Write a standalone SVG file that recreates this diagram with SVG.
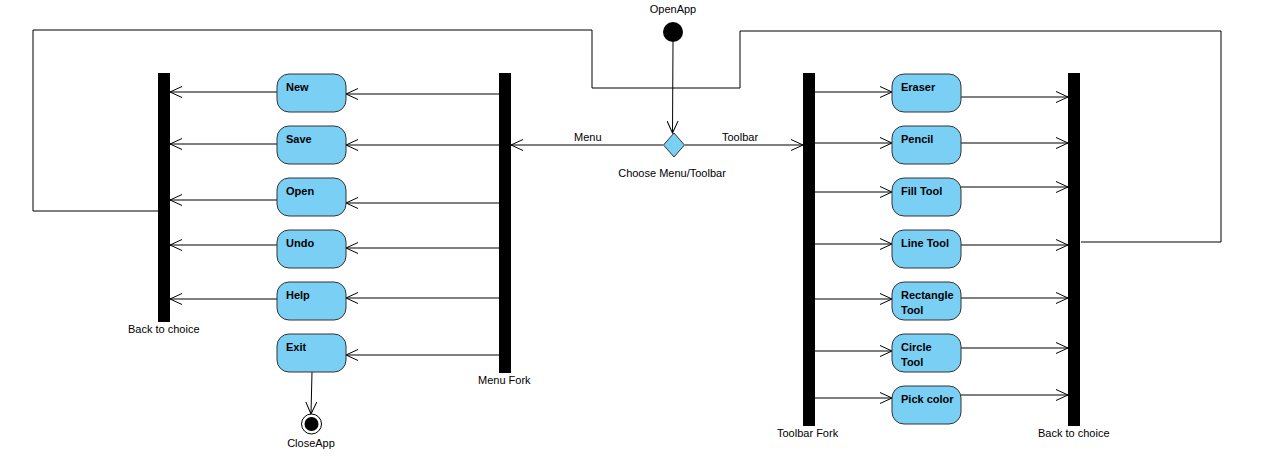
<svg xmlns="http://www.w3.org/2000/svg" width="1267" height="470" viewBox="0 0 1267 470">
<style>
text{font-family:"Liberation Sans",Arial,sans-serif;font-size:11px;fill:#000}
.n text{font-weight:bold}
.act{fill:#7acff5;stroke:#333;stroke-width:1}
.bar{fill:#000}
.c line,.c polyline{stroke:#000;stroke-width:1;fill:none}
.ar{marker-end:url(#a)}
</style>
<defs>
<marker id="a" markerWidth="14" markerHeight="12" refX="12" refY="6" orient="auto" markerUnits="userSpaceOnUse">
<path d="M0,0.5 L12,6 L0,11.5" fill="none" stroke="#000" stroke-width="1"/>
</marker>
</defs>
<rect width="1267" height="470" fill="#fff"/>

<g class="c" id="connectors">
<polyline points="158,211 33,211 33,30 592,30 592,88 673,88"/>
<polyline points="1081,242 1221,242 1221,31 740,31 740,88 673,88"/>
<line class="ar" x1="673" y1="42" x2="672.5" y2="133"/>
<line class="ar" x1="663" y1="145" x2="511" y2="145"/>
<line class="ar" x1="685" y1="145" x2="803" y2="145"/>
<!-- left menu -->
<line class="ar" x1="499" y1="94" x2="346" y2="94"/>
<line class="ar" x1="277" y1="92" x2="170" y2="92"/>
<line class="ar" x1="499" y1="145" x2="346" y2="145"/>
<line class="ar" x1="277" y1="144" x2="170" y2="144"/>
<line class="ar" x1="499" y1="203" x2="346" y2="203"/>
<line class="ar" x1="277" y1="200" x2="170" y2="200"/>
<line class="ar" x1="499" y1="248" x2="346" y2="248"/>
<line class="ar" x1="277" y1="245" x2="170" y2="245"/>
<line class="ar" x1="499" y1="298" x2="346" y2="298"/>
<line class="ar" x1="277" y1="299" x2="170" y2="299"/>
<line class="ar" x1="499" y1="355" x2="346" y2="355"/>
<line class="ar" x1="312" y1="372" x2="311" y2="414"/>
<!-- right toolbar -->
<line class="ar" x1="815" y1="92" x2="892" y2="92"/>
<line class="ar" x1="961" y1="97" x2="1068" y2="97"/>
<line class="ar" x1="815" y1="143" x2="892" y2="143"/>
<line class="ar" x1="961" y1="143" x2="1068" y2="143"/>
<line class="ar" x1="815" y1="192" x2="892" y2="192"/>
<line class="ar" x1="961" y1="187" x2="1068" y2="187"/>
<line class="ar" x1="815" y1="244" x2="892" y2="244"/>
<line class="ar" x1="961" y1="245" x2="1068" y2="245"/>
<line class="ar" x1="815" y1="299" x2="892" y2="299"/>
<line class="ar" x1="961" y1="298" x2="1068" y2="298"/>
<line class="ar" x1="815" y1="351" x2="892" y2="351"/>
<line class="ar" x1="961" y1="348" x2="1068" y2="348"/>
<line class="ar" x1="815" y1="398" x2="892" y2="398"/>
<line class="ar" x1="961" y1="395" x2="1068" y2="395"/>
<text x="574" y="141">Menu</text>
<text x="722" y="141">Toolbar</text>
</g>

<g id="openApp"><circle cx="673" cy="32" r="10" fill="#000"/><text x="673" y="13" text-anchor="middle">OpenApp</text></g>
<g id="choose"><polygon points="674,133 684.5,145 674,157 663.5,145" fill="#7acff5" stroke="#333"/><text x="672" y="177" text-anchor="middle">Choose Menu/Toolbar</text></g>

<g id="backLeft"><rect class="bar" x="158" y="73" width="12" height="249"/><text x="128" y="333">Back to choice</text></g>
<g id="menuFork"><rect class="bar" x="499" y="73" width="12" height="300"/><text x="478" y="384">Menu Fork</text></g>
<g id="toolbarFork"><rect class="bar" x="803" y="73" width="12" height="353"/><text x="777" y="437">Toolbar Fork</text></g>
<g id="backRight"><rect class="bar" x="1068" y="73" width="12" height="353"/><text x="1038" y="437">Back to choice</text></g>

<g class="n" id="new"><rect class="act" x="277" y="74" width="69" height="38" rx="12"/><text x="286" y="91">New</text></g>
<g class="n" id="save"><rect class="act" x="277" y="126" width="69" height="38" rx="12"/><text x="286" y="143">Save</text></g>
<g class="n" id="open"><rect class="act" x="277" y="178" width="69" height="38" rx="12"/><text x="286" y="195">Open</text></g>
<g class="n" id="undo"><rect class="act" x="277" y="230" width="69" height="38" rx="12"/><text x="286" y="247">Undo</text></g>
<g class="n" id="help"><rect class="act" x="277" y="282" width="69" height="38" rx="12"/><text x="286" y="299">Help</text></g>
<g class="n" id="exit"><rect class="act" x="277" y="334" width="69" height="38" rx="12"/><text x="286" y="351">Exit</text></g>
<g id="closeApp"><circle cx="311.5" cy="424" r="10" fill="#fff" stroke="#000"/><circle cx="311.5" cy="424" r="7" fill="#000"/><text x="311" y="447" text-anchor="middle">CloseApp</text></g>

<g class="n" id="eraser"><rect class="act" x="892" y="74" width="69" height="38" rx="12"/><text x="901" y="91">Eraser</text></g>
<g class="n" id="pencil"><rect class="act" x="892" y="126" width="69" height="38" rx="12"/><text x="901" y="143">Pencil</text></g>
<g class="n" id="fill"><rect class="act" x="892" y="178" width="69" height="38" rx="12"/><text x="901" y="195">Fill Tool</text></g>
<g class="n" id="line"><rect class="act" x="892" y="230" width="69" height="38" rx="12"/><text x="901" y="247">Line Tool</text></g>
<g class="n" id="rect"><rect class="act" x="892" y="282" width="69" height="38" rx="12"/><text x="901" y="299">Rectangle</text><text x="901" y="314">Tool</text></g>
<g class="n" id="circle"><rect class="act" x="892" y="334" width="69" height="38" rx="12"/><text x="901" y="351">Circle</text><text x="901" y="366">Tool</text></g>
<g class="n" id="pick"><rect class="act" x="892" y="386" width="69" height="38" rx="12"/><text x="901" y="403">Pick color</text></g>
</svg>
